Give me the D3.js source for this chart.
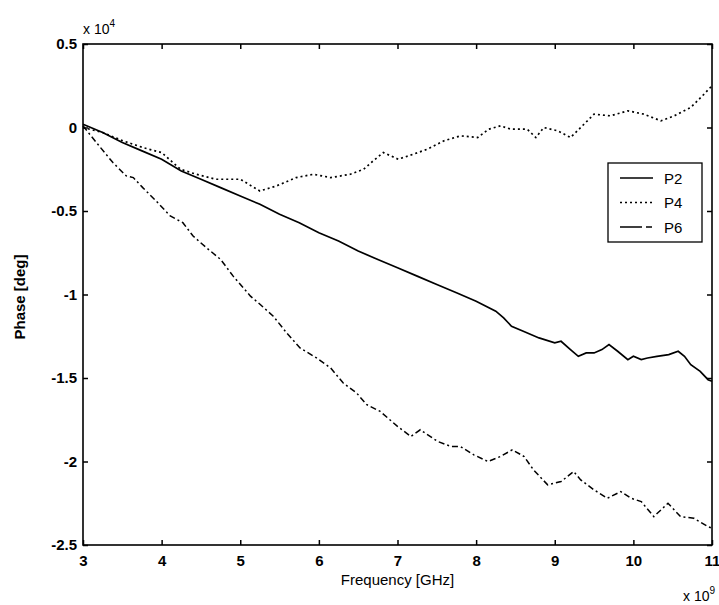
<!DOCTYPE html>
<html><head><meta charset="utf-8">
<script src="https://cdn.jsdelivr.net/npm/d3@7"></script>
<style>
html,body{margin:0;padding:0;background:#fff;}
svg text{font-family:"Liberation Sans",Arial,sans-serif;fill:#000;}
</style></head>
<body><svg id="c" width="719" height="605"></svg>
<script>
// Frequency in GHz (axis shown x 10^9), phase in units of 10^4 deg
const xTicks = [3,4,5,6,7,8,9,10,11];
const yTicks = [0.5,0,-0.5,-1,-1.5,-2,-2.5];
const yTickLabels = ["0.5","0","-0.5","-1","-1.5","-2","-2.5"];
const seriesNames = ["P2","P4","P6"];

const p2Freq = [3.0,3.25,3.5,3.75,4.0,4.25,4.5,4.75,5.0,5.25,5.5,5.75,6.0,6.25,6.5,6.75,7.0,7.25,7.5,7.75,8.0,8.25,8.35,8.45,8.6,8.8,9.0,9.08,9.2,9.3,9.4,9.5,9.6,9.69,9.8,9.93,10.0,10.1,10.18,10.3,10.45,10.57,10.65,10.73,10.85,10.95,11.0];
const p2Phase = [0.02,-0.03,-0.09,-0.14,-0.19,-0.26,-0.31,-0.36,-0.41,-0.46,-0.52,-0.57,-0.63,-0.68,-0.74,-0.79,-0.84,-0.89,-0.94,-0.99,-1.04,-1.10,-1.14,-1.19,-1.22,-1.26,-1.29,-1.28,-1.33,-1.37,-1.35,-1.35,-1.33,-1.30,-1.34,-1.39,-1.37,-1.39,-1.38,-1.37,-1.36,-1.34,-1.37,-1.42,-1.46,-1.51,-1.52];

const p4Freq = [3.0,3.25,3.51,3.76,4.0,4.24,4.44,4.69,5.0,5.25,5.46,5.71,5.93,6.15,6.4,6.57,6.69,6.82,7.01,7.2,7.38,7.59,7.8,8.02,8.16,8.31,8.44,8.65,8.76,8.86,9.04,9.2,9.33,9.5,9.71,9.93,10.13,10.35,10.52,10.73,10.9,11.0];
const p4Phase = [0.0,-0.03,-0.08,-0.12,-0.15,-0.25,-0.28,-0.31,-0.31,-0.38,-0.35,-0.30,-0.28,-0.30,-0.28,-0.25,-0.20,-0.15,-0.19,-0.16,-0.13,-0.08,-0.05,-0.06,-0.01,0.01,-0.01,-0.01,-0.06,0.0,-0.02,-0.06,0.0,0.08,0.07,0.10,0.08,0.04,0.07,0.12,0.20,0.25];

const p6Freq = [3.0,3.17,3.38,3.55,3.64,3.76,3.93,4.11,4.27,4.4,4.57,4.75,4.91,5.13,5.23,5.42,5.59,5.76,5.97,6.15,6.31,6.48,6.61,6.78,7.0,7.17,7.29,7.51,7.68,7.8,7.97,8.15,8.31,8.46,8.61,8.73,8.91,9.08,9.24,9.33,9.5,9.67,9.84,9.97,10.1,10.26,10.44,10.6,10.77,10.95,11.0];
const p6Phase = [0.01,-0.09,-0.21,-0.29,-0.30,-0.36,-0.44,-0.53,-0.57,-0.65,-0.72,-0.79,-0.89,-1.01,-1.05,-1.13,-1.23,-1.32,-1.38,-1.44,-1.53,-1.59,-1.66,-1.70,-1.79,-1.85,-1.81,-1.88,-1.91,-1.91,-1.96,-2.00,-1.97,-1.93,-1.97,-2.05,-2.14,-2.12,-2.06,-2.11,-2.17,-2.22,-2.18,-2.22,-2.24,-2.33,-2.25,-2.33,-2.34,-2.39,-2.40];

const svg = d3.select("#c");
const L = 83, R = 712, T = 44, B = 545;
const x = d3.scaleLinear().domain([3,11]).range([L,R]);
const y = d3.scaleLinear().domain([-2.5,0.5]).range([B,T]);

const series = [
  {name:seriesNames[0], f:p2Freq, v:p2Phase, dash:null, w:1.7},
  {name:seriesNames[1], f:p4Freq, v:p4Phase, dash:"2,3", w:1.7},
  {name:seriesNames[2], f:p6Freq, v:p6Phase, dash:"6,3,2,3", w:1.5}
];

const line = d3.line().x(d=>x(d[0])).y(d=>y(d[1]));
series.forEach(s=>{
  const pts = s.f.map((f,i)=>[f,s.v[i]]);
  svg.append("path").attr("d",line(pts)).attr("fill","none")
    .attr("stroke","#000").attr("stroke-width",s.w)
    .attr("stroke-dasharray",s.dash);
});

// axes
const fmtY = d => yTickLabels[yTicks.indexOf(d)];
const gB = svg.append("g").attr("transform",`translate(0,${B})`)
  .call(d3.axisBottom(x).tickValues(xTicks).tickSizeInner(-5).tickSizeOuter(0).tickPadding(10).tickFormat(d3.format("d")));
const gL = svg.append("g").attr("transform",`translate(${L},0)`)
  .call(d3.axisLeft(y).tickValues(yTicks).tickSizeInner(-5).tickSizeOuter(0).tickPadding(6).tickFormat(fmtY));
const gT = svg.append("g").attr("transform",`translate(0,${T})`)
  .call(d3.axisTop(x).tickValues(xTicks).tickSizeInner(-5).tickSizeOuter(0).tickFormat(""));
const gR = svg.append("g").attr("transform",`translate(${R},0)`)
  .call(d3.axisRight(y).tickValues(yTicks).tickSizeInner(-5).tickSizeOuter(0).tickFormat(""));
[gB,gL,gT,gR].forEach(g=>{
  g.select(".domain").remove();
  g.selectAll(".tick line").attr("stroke","#000").attr("stroke-width",1.5);
  g.selectAll(".tick text").attr("font-size",15).attr("font-weight","bold")
    .attr("font-family","'Liberation Sans',Arial,sans-serif").attr("fill","#000");
});
svg.append("rect").attr("x",L).attr("y",T).attr("width",R-L).attr("height",B-T)
  .attr("fill","none").attr("stroke","#000").attr("stroke-width",1.6);

// exponent labels
const e1 = svg.append("text").attr("x",L).attr("y",34).attr("font-size",14);
e1.append("tspan").text("x 10");
e1.append("tspan").attr("dy",-7).attr("font-size",10).text("4");
const e2 = svg.append("text").attr("x",683).attr("y",601).attr("font-size",14);
e2.append("tspan").text("x 10");
e2.append("tspan").attr("dy",-7).attr("font-size",10).text("9");

// axis labels
svg.append("text").attr("x",(L+R)/2).attr("y",585).attr("text-anchor","middle")
  .attr("font-size",15).text("Frequency [GHz]");
svg.append("text").attr("transform","translate(25,297) rotate(-90)")
  .attr("text-anchor","middle").attr("font-size",15).attr("font-weight","bold").text("Phase [deg]");

// legend
const lg = svg.append("g");
lg.append("rect").attr("x",608).attr("y",163).attr("width",94).attr("height",79)
  .attr("fill","#fff").attr("stroke","#000").attr("stroke-width",1.3);
series.forEach((s,i)=>{
  const yy = 178 + i*24.5;
  lg.append("line").attr("x1",620).attr("x2",653).attr("y1",yy).attr("y2",yy)
    .attr("stroke","#000").attr("stroke-width",1.6)
    .attr("stroke-dasharray", i===2 ? "22,4,6,4" : s.dash);
  lg.append("text").attr("x",664).attr("y",yy+5.5).attr("font-size",15).text(s.name);
});
</script></body></html>
